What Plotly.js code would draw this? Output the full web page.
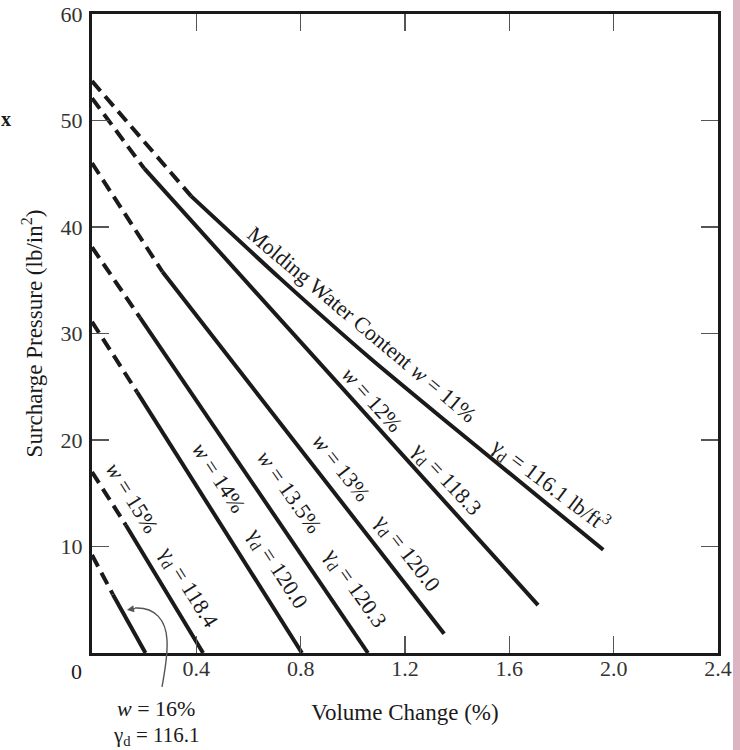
<!DOCTYPE html>
<html>
<head>
<meta charset="utf-8">
<script src="https://cdn.plot.ly/plotly-3.0.1.min.js"></script>
<style>
html,body{margin:0;padding:0;background:#fff;}
#chart{width:740px;height:750px;}
</style>
</head>
<body>
<div id="chart"></div>
<script>
// ---- Data ----
var w11DashX = [0, 0.38];
var w11DashY = [53.7, 42.9];
var w11SolidX = [0.38, 0.72, 1.07, 1.35, 1.64, 1.96];
var w11SolidY = [42.9, 35.2, 27.6, 21.9, 16.1, 9.7];

var w12DashX = [0, 0.2];
var w12DashY = [52.1, 45.5];
var w12SolidX = [0.2, 0.92, 1.71];
var w12SolidY = [45.5, 25.9, 4.5];

var w13DashX = [0, 0.27];
var w13DashY = [46.0, 35.8];
var w13SolidX = [0.27, 1.35];
var w13SolidY = [35.8, 1.8];

var w135DashX = [0, 0.184];
var w135DashY = [38.1, 31.5];
var w135SolidX = [0.184, 0.556, 1.058];
var w135SolidY = [31.5, 18.1, 0];

var w14DashX = [0, 0.173];
var w14DashY = [31.1, 24.5];
var w14SolidX = [0.173, 0.805];
var w14SolidY = [24.5, 0];

var w15DashX = [0, 0.13];
var w15DashY = [17.0, 12.0];
var w15SolidX = [0.13, 0.426];
var w15SolidY = [12.0, 0];

var w16DashX = [0, 0.08];
var w16DashY = [9.2, 5.5];
var w16SolidX = [0.08, 0.205];
var w16SolidY = [5.5, 0];

var xTickVals = [0.4, 0.8, 1.2, 1.6, 2.0, 2.4];
var xTickText = ['0.4', '0.8', '1.2', '1.6', '2.0', '2.4'];
var yTickVals = [10, 20, 30, 40, 50, 60];
var yTickText = ['10', '20', '30', '40', '50', '60'];

// ---- Styling ----
var FONT = 'Liberation Serif, Times New Roman, serif';
var INK = '#1a1a1a';
var LW = 4;
var DASH = '13px,7px';

function seg(x, y, dashed, name) {
  return {
    x: x, y: y, type: 'scatter', mode: 'lines', name: name,
    line: {color: INK, width: LW, dash: dashed ? DASH : 'solid'},
    hoverinfo: 'skip', showlegend: false
  };
}

var traces = [
  seg(w11DashX, w11DashY, true, 'w11d'), seg(w11SolidX, w11SolidY, false, 'w11'),
  seg(w12DashX, w12DashY, true, 'w12d'), seg(w12SolidX, w12SolidY, false, 'w12'),
  seg(w13DashX, w13DashY, true, 'w13d'), seg(w13SolidX, w13SolidY, false, 'w13'),
  seg(w135DashX, w135DashY, true, 'w135d'), seg(w135SolidX, w135SolidY, false, 'w135'),
  seg(w14DashX, w14DashY, true, 'w14d'), seg(w14SolidX, w14SolidY, false, 'w14'),
  seg(w15DashX, w15DashY, true, 'w15d'), seg(w15SolidX, w15SolidY, false, 'w15'),
  seg(w16DashX, w16DashY, true, 'w16d'), seg(w16SolidX, w16SolidY, false, 'w16')
];
traces[1].line.shape = 'spline';
traces[1].line.smoothing = 0.5;

function lab(text, x, y, ang) {
  return {
    text: text, x: x, y: y, xref: 'x', yref: 'y', showarrow: false,
    textangle: ang, xanchor: 'center', yanchor: 'middle',
    font: {family: FONT, size: 22, color: INK}
  };
}
function plab(text, x, y, size) {
  return {
    text: text, x: x, y: y, xref: 'paper', yref: 'paper', showarrow: false,
    xanchor: 'center', yanchor: 'middle',
    font: {family: FONT, size: size || 22, color: INK}
  };
}
var G = '\u03b3<sub>d</sub>';

var annotations = [
  lab('Molding Water Content <i>w</i> = 11%', 1.035, 30.8, 40),
  lab(G + ' = 116.1 lb/ft<sup>3</sup>', 1.756, 15.8, 37),
  lab('<i>w</i> = 12%', 1.074, 23.8, 48),
  lab(G + ' = 118.3', 1.357, 16.2, 47),
  lab('<i>w</i> = 13%', 0.955, 17.4, 52),
  lab(G + ' = 120.0', 1.204, 9.4, 52),
  lab('<i>w</i> = 13.5%', 0.759, 15.1, 55),
  lab(G + ' = 120.3', 1.005, 6.1, 55),
  lab('<i>w</i> = 14%', 0.487, 16.5, 57),
  lab(G + ' = 120.0', 0.709, 7.9, 57),
  lab('<i>w</i> = 15%', 0.153, 14.6, 58),
  lab(G + ' = 118.4', 0.368, 6.1, 58),
  plab('<i>w</i> = 16%', 0.1022, -0.0861),
  plab(G + ' = 116.1', 0.1022, -0.1295, 21),
  plab('0', -0.024, -0.0297),
  plab('<b>x</b>', -0.1374, 0.8357, 20),
  {
    x: 0.134, y: 4.04, xref: 'x', yref: 'y', text: ' ', showarrow: true,
    ax: 11, ay: -2, arrowhead: 2, arrowsize: 1, arrowwidth: 1.4, arrowcolor: '#555'
  }
];

var layout = {
  width: 740, height: 750,
  margin: {l: 92, r: 22, t: 14, b: 97},
  paper_bgcolor: '#ffffff', plot_bgcolor: '#ffffff',
  showlegend: false,
  font: {family: FONT, color: INK},
  xaxis: {
    range: [0, 2.4], tickvals: xTickVals, ticktext: xTickText,
    ticks: 'inside', ticklen: 17, tickwidth: 1.3, tickcolor: '#555',
    showline: true, linewidth: 3, linecolor: INK, mirror: 'ticks',
    showgrid: false, zeroline: false, ticklabelstandoff: -6,
    tickfont: {family: FONT, size: 22, color: '#333'},
    title: {text: 'Volume Change (%)', font: {family: FONT, size: 23, color: INK}, standoff: 24}
  },
  yaxis: {
    range: [0, 60], tickvals: yTickVals, ticktext: yTickText,
    ticks: 'inside', ticklen: 17, tickwidth: 1.3, tickcolor: '#555',
    showline: true, linewidth: 3, linecolor: INK, mirror: 'ticks',
    showgrid: false, zeroline: false, ticklabelstandoff: 2,
    tickfont: {family: FONT, size: 22, color: '#333'},
    title: {text: 'Surcharge Pressure (lb/in<sup>2</sup>)', font: {family: FONT, size: 23, color: INK}, standoff: 12}
  },
  shapes: [
    {type: 'path', xref: 'paper', yref: 'paper',
     path: 'M 0.1118 -0.0532 C 0.1166 -0.0266 0.1214 -0.0031 0.1198 0.0203 C 0.1182 0.0516 0.1006 0.0720 0.0687 0.0704',
     line: {color: '#555', width: 1.4}},
    {type: 'rect', xref: 'paper', yref: 'paper', x0: 1.024, x1: 1.04, y0: -0.16, y1: 1.03,
     fillcolor: '#dcb4c2', line: {width: 0}, layer: 'below'}
  ],
  annotations: annotations
};

Plotly.newPlot('chart', traces, layout, {displayModeBar: false, staticPlot: true});
</script>
</body>
</html>
